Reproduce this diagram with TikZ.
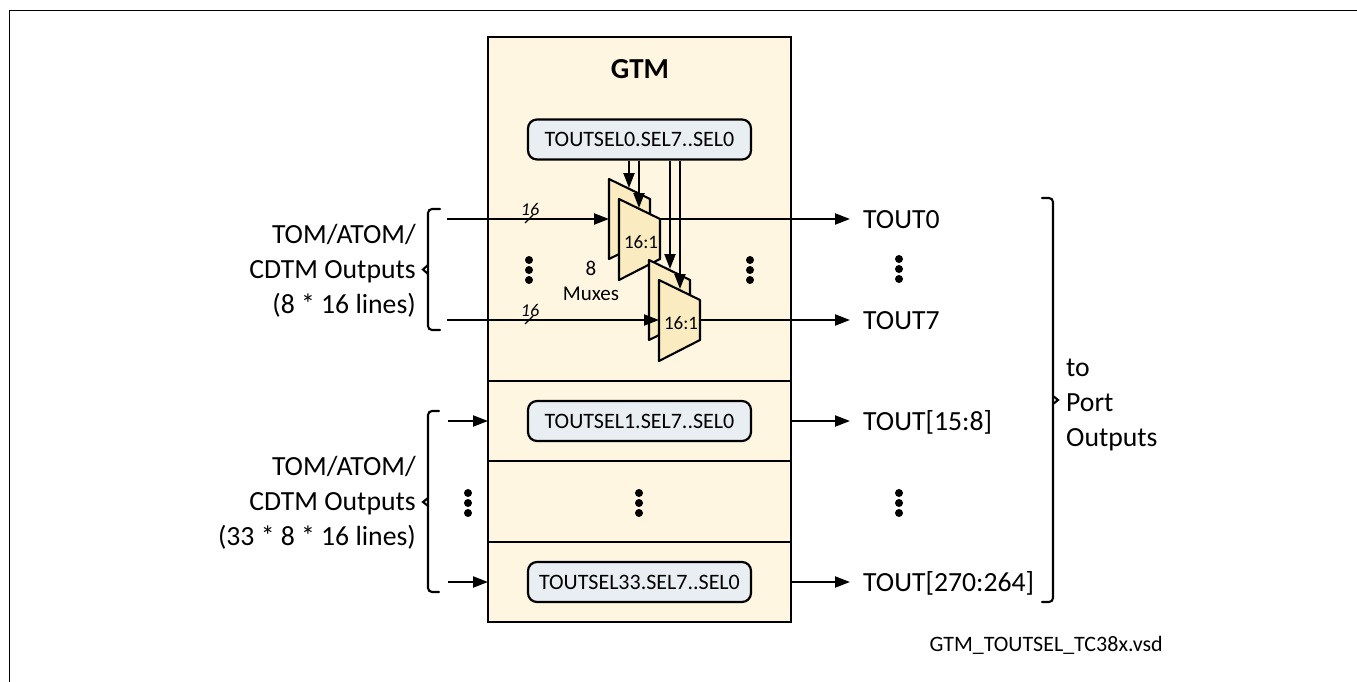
\documentclass[tikz,border=0pt]{standalone}
\usepackage{fontspec}
\setmainfont{Carlito}
\usetikzlibrary{arrows.meta,calc}

\definecolor{gtmfill}{HTML}{FFF6E2}
\definecolor{muxfill}{HTML}{FBEBC1}
\definecolor{selfill}{HTML}{E9EEF3}

\newcommand{\vdotsat}[2]{%
    \fill (#1,#2-10) circle (4) (#1,#2) circle (4) (#1,#2+10) circle (4);
}
\newcommand{\muxat}[3]{%
    \draw[muxbox] (#1,#2) -- ++(41,20) -- ++(0,40) -- ++(-41,20) -- cycle;
    \draw[muxbox] (#1+10,#2+20) -- ++(41,20) -- ++(0,40) -- ++(-41,21) -- cycle;
    \node[small, font=\fontsize{19}{20}\selectfont] (#3) at (#1+32,#2+63) {16:1};
}

\begin{document}
\begin{tikzpicture}[
        x=1pt, y=-1pt,
        >={Triangle[length=15pt,width=11pt]},
        wire/.style={line width=2.1pt},
        gtmbox/.style={draw, line width=2.2pt, fill=gtmfill},
        muxbox/.style={line width=2.1pt, line join=round, draw, fill=muxfill},
        selbox/.style={draw, line width=2.2pt, fill=selfill, rounded corners=9pt,
            minimum width=223pt, minimum height=40pt, inner sep=0pt, font=\fontsize{22}{24}\selectfont},
        big/.style={inner sep=0pt, font=\fontsize{27.7}{35}\selectfont},
        small/.style={inner sep=0pt, font=\fontsize{22}{24}\selectfont},
        bus/.style={inner sep=0pt, font=\fontsize{18}{20}\selectfont\itshape},
    ]
    \useasboundingbox (0,0) rectangle (1357,682);

    \draw[line width=0.9pt] (9,682) -- (9,10) -- (1357,10);

    \draw[gtmbox] (488,37) rectangle (791,622);
    \draw[gtmbox] (488,381) -- (791,381);
    \draw[gtmbox] (488,461) -- (791,461);
    \draw[gtmbox] (488,542) -- (791,542);

    \node[inner sep=0pt, font=\fontsize{29}{30}\selectfont\bfseries] (title) at (640,69) {GTM};

    \node[selbox] (sel0) at (639.5,139.5) {TOUTSEL0.SEL7..SEL0};
    \node[selbox] (sel1) at (639.5,421) {TOUTSEL1.SEL7..SEL0};
    \node[selbox] (sel33) at (639.5,582) {TOUTSEL33.SEL7..SEL0};

    \muxat{609}{179}{muxa}
    \muxat{649}{260}{muxb}

    \coordinate (ctla) at (629,188);
    \coordinate (ctlb) at (639,208);
    \coordinate (ctlc) at (670,269);
    \coordinate (ctld) at (680,289);

    \coordinate (ina) at (447,219);
    \coordinate (inb) at (447,320);
    \coordinate (muxain) at (609,219);
    \coordinate (muxbin) at (659,320);
    \coordinate (muxaout) at (660,219);
    \coordinate (muxbout) at (700,320);
    \coordinate (inc) at (448,421);
    \coordinate (ind) at (448,582);
    \coordinate (gtmc) at (488,421);
    \coordinate (gtmd) at (488,582);
    \coordinate (outc) at (791,421);
    \coordinate (outd) at (791,582);

    \node[big, anchor=west] (tout0) at (863,220) {TOUT0};
    \node[big, anchor=west] (tout7) at (863,321) {TOUT7};
    \node[big, anchor=west] (tout15) at (863,422) {TOUT[15:8]};
    \node[big, anchor=west] (tout270) at (863,583) {TOUT[270:264]};

    \path[wire]
    (ina)     edge[->] (muxain)
    (inb)     edge[->] (muxbin)
    (muxaout) edge[->] ($(tout0.west |- muxaout)+(-13,0)$)
    (muxbout) edge[->] ($(tout7.west |- muxbout)+(-13,0)$)
    (inc)     edge[->] (gtmc)
    (ind)     edge[->] (gtmd)
    (outc)    edge[->] ($(tout15.west |- outc)+(-13,0)$)
    (outd)    edge[->] ($(tout270.west |- outd)+(-13,0)$)
    (sel0.south -| ctla) edge[->] (ctla)
    (sel0.south -| ctlb) edge[->] (ctlb)
    (sel0.south -| ctlc) edge[->] (ctlc)
    (sel0.south -| ctld) edge[->] (ctld);

    \draw[line width=1.2pt] (525,223) -- (533,215);
    \draw[line width=1.2pt] (525,324) -- (533,316);
    \node[bus] (busa) at (530,209) {16};
    \node[bus] (busb) at (530,310) {16};

    \node[small, align=center, font=\fontsize{21}{25}\selectfont] (muxes) at (591,281) {8\\Muxes};

    \vdotsat{529}{270}
    \vdotsat{750}{270}
    \vdotsat{899}{269}
    \vdotsat{468}{503}
    \vdotsat{639}{503}
    \vdotsat{899}{503}

    \draw[wire, line cap=round, rounded corners=4pt]
    (440,209) -- (428,209) -- (428,330) -- (440,330);
    \draw[wire, line cap=round] (428,265) -- (423,269.5) -- (428,274);
    \draw[wire, line cap=round, rounded corners=4pt]
    (439,411) -- (428,411) -- (428,592) -- (439,592);
    \draw[wire, line cap=round] (428,498) -- (423,502) -- (428,506);
    \draw[wire, line cap=round, rounded corners=4pt]
    (1042,198) -- (1053,198) -- (1053,602) -- (1042,602);
    \draw[wire, line cap=round] (1053,396) -- (1058,400) -- (1053,404);

    \node[big, align=right, anchor=east] (inlabela) at (416,271) {TOM/ATOM/\\CDTM Outputs\\(8 * 16 lines)};
    \node[big, align=right, anchor=east] (inlabelb) at (416,503) {TOM/ATOM/\\CDTM Outputs\\(33 * 8 * 16 lines)};
    \node[big, align=left, anchor=west] (portlabel) at (1066,405) {to\\Port\\Outputs};

    \node[small, anchor=east] (filename) at (1163,645) {GTM\_TOUTSEL\_TC38x.vsd};
\end{tikzpicture}
\end{document}
